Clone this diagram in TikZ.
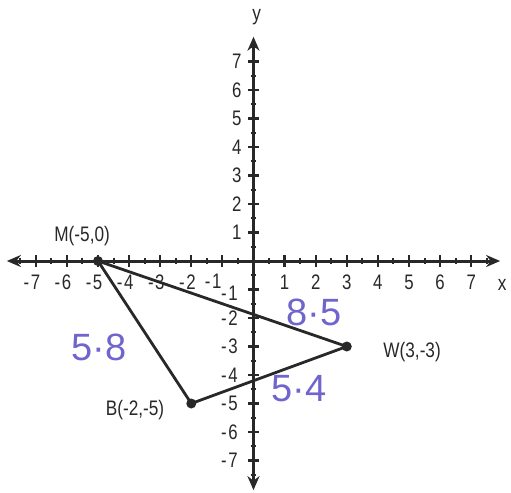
\documentclass[tikz,border=0pt]{standalone}
\usepackage{fontspec}
\setmainfont{Liberation Sans}
\usetikzlibrary{arrows.meta}
\definecolor{ink}{RGB}{40,40,40}
\definecolor{pen}{RGB}{112,100,205}
\begin{document}
\begin{tikzpicture}[x=15.55pt,y=14.25pt,
  axis/.style={draw=ink,line width=1.5pt,-{Stealth[length=7pt,width=6pt]}},
  side/.style={draw=ink,line width=1.4pt},
  vdot/.style={circle,fill=ink,inner sep=0pt,minimum size=5pt},
  num/.style={font=\fontsize{10.5}{12}\selectfont,xscale=0.8,text=ink,inner sep=0pt},
  lab/.style={font=\fontsize{10.5}{12}\selectfont,xscale=0.82,text=ink,inner sep=0pt},
  hand/.style={font=\fontsize{19}{21}\selectfont,text=pen,inner sep=0pt}]
\useasboundingbox (-8.151,-8.140) rectangle (8.280,9.158);
% axes
\coordinate (xl) at (-7.93,0);
\coordinate (xr) at (7.93,0);
\coordinate (yb) at (0,-8.04);
\coordinate (yt) at (0,7.87);
\draw[axis] (0,0) -- (xr);
\draw[axis] (0,0) -- (xl);
\draw[axis] (0,0) -- (yt);
\draw[axis] (0,0) -- (yb);
% ticks
\foreach \i in {-7,...,7}{
  \draw[ink,line width=1.1pt] (\i,-0.2) -- (\i,0.2);
  \draw[ink,line width=1.1pt] (-0.17,\i) -- (0.17,\i);
}
\foreach \i in {-7.5,-6.5,...,7.5}{
  \draw[ink,line width=1pt] (\i,-0.1) -- (\i,0.1);
  \draw[ink,line width=1pt] (-0.09,\i) -- (0.09,\i);
}
% x labels
\foreach \i in {1,...,7}{
  \node[num] (xn\i) at (\i,-0.74) {\i};
}
\foreach \i in {2,...,7}{
  \node[num,anchor=east] (xm\i) at (-\i+0.15,-0.74) {-\kern1pt\i};
}
\node[num,anchor=east] (xm1) at (-1.02,-0.72) {-\kern1pt 1};
% y labels
\foreach \i in {1,...,7}{
  \node[num,anchor=east] (yp\i) at (-0.38,\i) {\i};
}
\foreach \i in {2,...,7}{
  \node[num,anchor=east] (ym\i) at (-0.5,-\i) {-\kern1pt\i};
}
\node[num,anchor=east] (ym1) at (-0.5,-1.12) {-\kern1pt 1};
\node[lab] (xlab) at (8.0,-0.85) {x};
\node[lab] (ylab) at (0.1,8.55) {y};
% triangle
\node[vdot] (M) at (-5,0) {};
\node[vdot] (W) at (3,-3) {};
\node[vdot] (B) at (-2,-5) {};
\draw[side] (M.center) -- (W.center) -- (B.center) -- cycle;
\node[lab] (Ml) at (-5.51,0.88) {M(-5,0)};
\node[lab] (Wl) at (5.1,-3.19) {W(3,-3)};
\node[lab] (Bl) at (-3.81,-5.24) {B(-2,-5)};
% handwritten lengths
\node[hand] (h1) at (1.94,-1.82) {8·5};
\node[hand] (h2) at (1.46,-4.49) {5·4};
\node[hand] (h3) at (-4.97,-3.02) {5·8};
\end{tikzpicture}
\end{document}
